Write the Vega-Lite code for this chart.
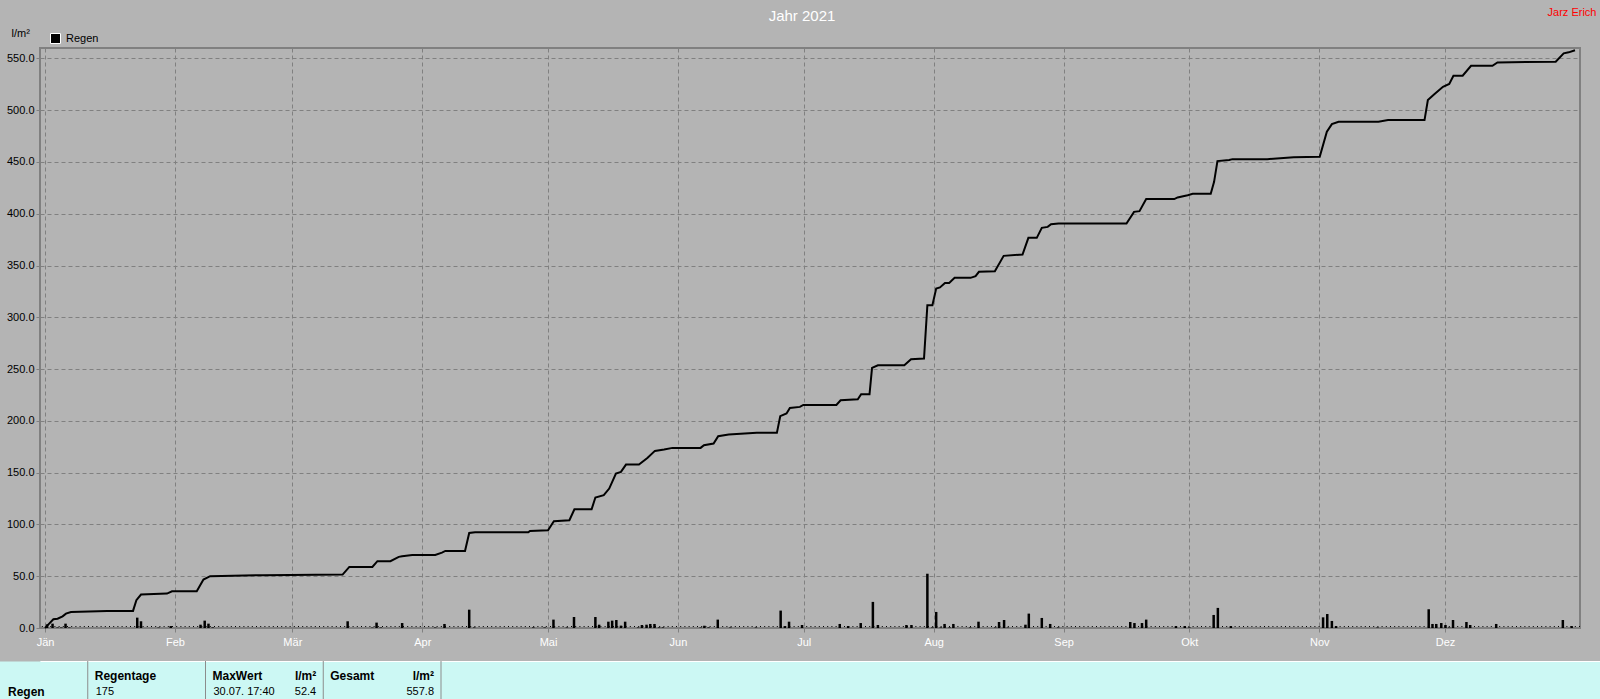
{
  "$schema": "https://vega.github.io/schema/vega-lite/v6.json",
  "background": "#b4b4b4",
  "padding": {"top": 7, "left": 0, "right": 0, "bottom": 0},
  "config": {"font": "Liberation Sans"},
  "datasets": {
    "regen": [
      {"tag": 0.5, "mm": 3.5}, {"tag": 1.8, "mm": 4.2}, {"tag": 3.0, "mm": 0.5}, {"tag": 3.9, "mm": 0.5},
      {"tag": 4.9, "mm": 4.2}, {"tag": 5.8, "mm": 0.5}, {"tag": 22.0, "mm": 10.0}, {"tag": 22.9, "mm": 6.5},
      {"tag": 27.1, "mm": 0.4}, {"tag": 30.0, "mm": 1.9}, {"tag": 37.1, "mm": 3.2}, {"tag": 38.1, "mm": 7.1},
      {"tag": 39.0, "mm": 4.2}, {"tag": 40.0, "mm": 0.6}, {"tag": 72.2, "mm": 6.5}, {"tag": 78.1, "mm": 0.4},
      {"tag": 79.1, "mm": 5.2}, {"tag": 80.1, "mm": 0.5}, {"tag": 85.2, "mm": 4.8}, {"tag": 93.1, "mm": 0.5},
      {"tag": 95.3, "mm": 3.9}, {"tag": 101.2, "mm": 17.7}, {"tag": 102.4, "mm": 0.5}, {"tag": 116.5, "mm": 0.6},
      {"tag": 119.2, "mm": 0.5}, {"tag": 121.3, "mm": 8.1}, {"tag": 124.5, "mm": 0.5}, {"tag": 126.2, "mm": 10.6},
      {"tag": 131.3, "mm": 10.6}, {"tag": 132.2, "mm": 3.2}, {"tag": 134.4, "mm": 6.1}, {"tag": 135.3, "mm": 7.1},
      {"tag": 136.3, "mm": 7.7}, {"tag": 137.4, "mm": 2.3}, {"tag": 138.4, "mm": 6.1}, {"tag": 141.5, "mm": 0.5},
      {"tag": 142.4, "mm": 2.9}, {"tag": 143.5, "mm": 3.2}, {"tag": 144.4, "mm": 3.9}, {"tag": 145.4, "mm": 3.9},
      {"tag": 146.5, "mm": 0.6}, {"tag": 147.4, "mm": 0.6}, {"tag": 156.4, "mm": 0.5}, {"tag": 157.3, "mm": 2.2},
      {"tag": 158.3, "mm": 0.6}, {"tag": 160.5, "mm": 8.1}, {"tag": 163.5, "mm": 0.5}, {"tag": 169.6, "mm": 0.5},
      {"tag": 175.5, "mm": 16.8}, {"tag": 176.5, "mm": 1.9}, {"tag": 177.5, "mm": 6.1}, {"tag": 180.6, "mm": 2.9},
      {"tag": 189.6, "mm": 3.9}, {"tag": 191.6, "mm": 1.9}, {"tag": 194.6, "mm": 4.8}, {"tag": 197.5, "mm": 25.2},
      {"tag": 198.7, "mm": 2.9}, {"tag": 205.5, "mm": 2.9}, {"tag": 206.7, "mm": 2.9}, {"tag": 210.5, "mm": 52.4},
      {"tag": 211.7, "mm": 0.6}, {"tag": 212.6, "mm": 15.5}, {"tag": 213.7, "mm": 0.6}, {"tag": 214.6, "mm": 3.9},
      {"tag": 215.8, "mm": 0.6}, {"tag": 216.7, "mm": 3.9}, {"tag": 220.7, "mm": 0.5}, {"tag": 222.7, "mm": 6.1},
      {"tag": 226.7, "mm": 0.5}, {"tag": 227.6, "mm": 5.8}, {"tag": 228.8, "mm": 7.7}, {"tag": 229.7, "mm": 0.4},
      {"tag": 233.9, "mm": 3.2}, {"tag": 234.7, "mm": 13.9}, {"tag": 237.8, "mm": 9.7}, {"tag": 239.8, "mm": 3.9},
      {"tag": 241.7, "mm": 0.5}, {"tag": 258.9, "mm": 5.8}, {"tag": 259.9, "mm": 4.8}, {"tag": 261.7, "mm": 4.8},
      {"tag": 262.7, "mm": 8.1}, {"tag": 269.8, "mm": 1.9}, {"tag": 271.9, "mm": 1.9}, {"tag": 273.0, "mm": 0.6},
      {"tag": 278.8, "mm": 12.6}, {"tag": 279.8, "mm": 19.4}, {"tag": 282.9, "mm": 1.9}, {"tag": 304.9, "mm": 10.3},
      {"tag": 305.9, "mm": 13.5}, {"tag": 307.0, "mm": 6.8}, {"tag": 308.0, "mm": 1.9}, {"tag": 317.9, "mm": 0.5},
      {"tag": 330.1, "mm": 18.1}, {"tag": 331.0, "mm": 3.9}, {"tag": 331.9, "mm": 3.9}, {"tag": 333.1, "mm": 4.8},
      {"tag": 334.1, "mm": 2.9}, {"tag": 335.0, "mm": 0.5}, {"tag": 335.9, "mm": 7.7}, {"tag": 339.1, "mm": 5.8},
      {"tag": 340.0, "mm": 2.9}, {"tag": 346.2, "mm": 3.9}, {"tag": 362.1, "mm": 7.7}, {"tag": 364.2, "mm": 1.9}
    ],
    "summe": [
      {"tag": 0, "summe": 0}, {"tag": 1, "summe": 4.2}, {"tag": 2, "summe": 8.4}, {"tag": 3, "summe": 9},
      {"tag": 4.2, "summe": 11.3}, {"tag": 5, "summe": 13.9}, {"tag": 6.2, "summe": 15.5}, {"tag": 14.8, "summe": 16.5},
      {"tag": 21, "summe": 16.5}, {"tag": 21.8, "summe": 26.8}, {"tag": 22.9, "summe": 32.3}, {"tag": 29.1, "summe": 33.2},
      {"tag": 30.3, "summe": 35.5}, {"tag": 36.2, "summe": 35.5}, {"tag": 37.8, "summe": 46.8}, {"tag": 39.4, "summe": 50},
      {"tag": 52, "summe": 51}, {"tag": 71, "summe": 51.6}, {"tag": 72.6, "summe": 59}, {"tag": 78.1, "summe": 59},
      {"tag": 79.3, "summe": 64.5}, {"tag": 82.4, "summe": 64.5}, {"tag": 84.4, "summe": 68.7}, {"tag": 85.2, "summe": 69.3},
      {"tag": 87.6, "summe": 70.5}, {"tag": 93.1, "summe": 70.5}, {"tag": 94.7, "summe": 72.8}, {"tag": 95.5, "summe": 74.4},
      {"tag": 100.2, "summe": 74.4}, {"tag": 101.2, "summe": 91.8}, {"tag": 102.6, "summe": 92.4}, {"tag": 115.3, "summe": 92.4},
      {"tag": 115.7, "summe": 93.7}, {"tag": 120, "summe": 94.4}, {"tag": 121.4, "summe": 103.1}, {"tag": 125.1, "summe": 104},
      {"tag": 126.3, "summe": 114.6}, {"tag": 130.4, "summe": 114.6}, {"tag": 131.3, "summe": 126}, {"tag": 133.3, "summe": 128.2},
      {"tag": 134.6, "summe": 134.6}, {"tag": 136.2, "summe": 149.1}, {"tag": 137.4, "summe": 150.7}, {"tag": 138.6, "summe": 157.8},
      {"tag": 141.7, "summe": 157.8}, {"tag": 143.7, "summe": 164.2}, {"tag": 145.5, "summe": 171}, {"tag": 147.7, "summe": 172.3},
      {"tag": 149.7, "summe": 173.9}, {"tag": 156.4, "summe": 173.9}, {"tag": 157.2, "summe": 176.5}, {"tag": 159.5, "summe": 178.1},
      {"tag": 160.6, "summe": 185.2}, {"tag": 163.1, "summe": 186.8}, {"tag": 169.8, "summe": 188.4}, {"tag": 174.6, "summe": 188.4},
      {"tag": 175.4, "summe": 204.5}, {"tag": 176.9, "summe": 207.1}, {"tag": 177.7, "summe": 212.5}, {"tag": 180.1, "summe": 213.5},
      {"tag": 180.9, "summe": 215.4}, {"tag": 188.8, "summe": 215.4}, {"tag": 189.8, "summe": 219.9}, {"tag": 193.9, "summe": 220.9},
      {"tag": 194.7, "summe": 225.7}, {"tag": 196.7, "summe": 225.7}, {"tag": 197.3, "summe": 251.1}, {"tag": 198.7, "summe": 253.7},
      {"tag": 205, "summe": 253.7}, {"tag": 206.6, "summe": 259.5}, {"tag": 209.7, "summe": 260.2}, {"tag": 210.5, "summe": 311.7},
      {"tag": 211.7, "summe": 311.7}, {"tag": 212.6, "summe": 327.8}, {"tag": 213.5, "summe": 328.8}, {"tag": 214.7, "summe": 333.2},
      {"tag": 215.7, "summe": 333.2}, {"tag": 217, "summe": 338.1}, {"tag": 220.8, "summe": 338.1}, {"tag": 222, "summe": 339.7},
      {"tag": 222.8, "summe": 343.9}, {"tag": 226.6, "summe": 344.5}, {"tag": 228.7, "summe": 359.3}, {"tag": 233.2, "summe": 360.6},
      {"tag": 234.6, "summe": 376.7}, {"tag": 236.6, "summe": 376.7}, {"tag": 237.8, "summe": 386.4}, {"tag": 239.2, "summe": 387.3},
      {"tag": 240, "summe": 389.9}, {"tag": 241.8, "summe": 390.6}, {"tag": 258, "summe": 390.6}, {"tag": 259.8, "summe": 401.8},
      {"tag": 261.1, "summe": 402.5}, {"tag": 262.7, "summe": 414.1}, {"tag": 269.4, "summe": 414.1}, {"tag": 270.2, "summe": 415.7},
      {"tag": 272.6, "summe": 417.9}, {"tag": 273.8, "summe": 419.2}, {"tag": 278.1, "summe": 419.2}, {"tag": 278.9, "summe": 430.8},
      {"tag": 279.7, "summe": 450.8}, {"tag": 282.5, "summe": 451.8}, {"tag": 283.3, "summe": 452.7}, {"tag": 291.6, "summe": 452.7},
      {"tag": 297.9, "summe": 454.4}, {"tag": 304.1, "summe": 455}, {"tag": 305.8, "summe": 479.1}, {"tag": 307, "summe": 486.5},
      {"tag": 308.6, "summe": 488.8}, {"tag": 318.1, "summe": 488.8}, {"tag": 320.4, "summe": 490.4}, {"tag": 329.1, "summe": 490.4},
      {"tag": 329.9, "summe": 509.7}, {"tag": 331.5, "summe": 515.5}, {"tag": 333.5, "summe": 522.6}, {"tag": 335, "summe": 525.2},
      {"tag": 336, "summe": 533.2}, {"tag": 338.2, "summe": 533.2}, {"tag": 340.2, "summe": 542.8}, {"tag": 345.3, "summe": 542.8},
      {"tag": 346.5, "summe": 546.1}, {"tag": 360.4, "summe": 546.7}, {"tag": 362.3, "summe": 554.8}, {"tag": 363.5, "summe": 555.8},
      {"tag": 365, "summe": 557.8}
    ],
    "tabelle": [
      {"spalte": "Regen", "zeile": "Regen", "kopf": "", "einheit": "", "wert": "", "wert2": ""},
      {"spalte": "Regentage", "zeile": "", "kopf": "Regentage", "einheit": "", "wert": "175", "wert2": ""},
      {"spalte": "MaxWert", "zeile": "", "kopf": "MaxWert", "einheit": "l/m²", "wert": "30.07.  17:40", "wert2": "52.4"},
      {"spalte": "Gesamt", "zeile": "", "kopf": "Gesamt", "einheit": "l/m²", "wert": "", "wert2": "557.8"}
    ]
  },
  "title": {"text": "Jarz Erich", "anchor": "end", "color": "#ff0000", "fontSize": 11, "fontWeight": "normal", "offset": -10.5, "dx": -4},
  "columns": 1,
  "spacing": 12,
  "concat": [
    {
      "width": 1540,
      "height": 580,
      "view": {"stroke": "#808080", "strokeWidth": 2},
      "title": {"text": "Jahr 2021", "anchor": "middle", "frame": "group", "color": "#ffffff", "fontSize": 15, "fontWeight": "normal", "offset": 3.5, "dx": -8},
      "layer": [
        {
          "data": {"name": "regen"},
          "mark": {"type": "bar", "width": 2.5},
          "encoding": {
            "x": {"field": "tag", "type": "quantitative", "scale": {"domain": [0, 365], "nice": false, "zero": false},
                  "axis": {"values": [0, 31, 59, 90, 120, 151, 181, 212, 243, 273, 304, 334], "labelExpr": "['Jän','Feb','Mär','Apr','Mai','Jun','Jul','Aug','Sep','Okt','Nov','Dez'][indexof([0,31,59,90,120,151,181,212,243,273,304,334], datum.value)]", "title": null, "grid": true, "gridColor": "#808080", "gridDash": [4, 3], "gridOpacity": 1, "domain": false, "tickColor": "#808080", "tickSize": 4, "labelColor": "#ffffff", "labelFontSize": 11, "labelPadding": 4, "labelFlush": false}},
            "y": {"field": "mm", "type": "quantitative", "scale": {"domain": [0, 560], "nice": false},
                  "axis": {"values": [0, 50, 100, 150, 200, 250, 300, 350, 400, 450, 500, 550], "format": ".1f", "title": "l/m²", "titleAngle": 0, "titleAlign": "left", "titleBaseline": "alphabetic", "titleX": -29, "titleY": -12, "titleFontSize": 11, "titleFontWeight": "normal", "titleColor": "#000000", "grid": true, "gridColor": "#808080", "gridDash": [4, 3], "gridOpacity": 1, "domain": false, "tickColor": "#808080", "tickSize": 4, "labelColor": "#000000", "labelFontSize": 11, "labelPadding": 2}},
            "color": {"datum": "Regen", "scale": {"domain": ["Regen"], "range": ["#000000"]},
                      "legend": {"orient": "none", "legendX": 10, "legendY": -15, "title": null, "direction": "horizontal", "symbolType": "square", "symbolSize": 100, "symbolStrokeColor": "#ffffff", "symbolStrokeWidth": 1, "labelFontSize": 11, "labelColor": "#000000", "labelOffset": 5, "padding": 0}}
          }
        },
        {
          "data": {"name": "summe"},
          "mark": {"type": "line", "color": "#000000", "strokeWidth": 2},
          "encoding": {
            "x": {"field": "tag", "type": "quantitative"},
            "y": {"field": "summe", "type": "quantitative"}
          }
        },
        {
          "data": {"values": [{}]},
          "mark": {"type": "rule", "color": "#000000", "strokeDash": [1, 3.2], "strokeWidth": 1.2, "yOffset": -1.5},
          "encoding": {"y": {"datum": 0, "type": "quantitative"}}
        }
      ]
    },
    {
      "width": 1560,
      "height": 38,
      "view": {"fill": "#ccf8f4", "stroke": "#ffffff", "strokeWidth": 1},
      "data": {"name": "tabelle"},
      "layer": [
        {
          "transform": [{"filter": "datum.spalte !== 'Regen'"}],
          "mark": {"type": "rule", "color": "#8c8c8c", "strokeWidth": 1},
          "encoding": {"x": {"field": "spalte", "type": "nominal", "bandPosition": 0, "scale": {"type": "band", "domain": ["Regen", "Regentage", "MaxWert", "Gesamt"], "range": [-70, 401], "paddingInner": 0, "paddingOuter": 0}, "axis": null}}
        },
        {
          "transform": [{"filter": "datum.spalte === 'Gesamt'"}],
          "mark": {"type": "rule", "color": "#8c8c8c", "strokeWidth": 1},
          "encoding": {"x": {"field": "spalte", "type": "nominal", "bandPosition": 1, "axis": null}}
        },
        {
          "transform": [{"filter": "datum.kopf !== ''"}],
          "mark": {"type": "text", "align": "left", "baseline": "middle", "fontWeight": "bold", "fontSize": 12, "dx": 7, "color": "#000000"},
          "encoding": {
            "x": {"field": "spalte", "type": "nominal", "bandPosition": 0, "axis": null},
            "y": {"datum": "Kopf", "type": "nominal", "scale": {"type": "point", "domain": ["Kopf", "Wert"], "range": [0, 38], "padding": 0.6875, "align": 0.682},
                  "axis": {"orient": "left", "offset": 39.5, "domainColor": "#ccf8f4", "domainWidth": 80, "domainCap": "butt", "ticks": false, "labels": false, "title": null, "grid": false}},
            "text": {"field": "kopf"}
          }
        },
        {
          "transform": [{"filter": "datum.einheit !== ''"}],
          "mark": {"type": "text", "align": "right", "baseline": "middle", "fontWeight": "bold", "fontSize": 12, "dx": -7, "color": "#000000"},
          "encoding": {
            "x": {"field": "spalte", "type": "nominal", "bandPosition": 1, "axis": null},
            "y": {"datum": "Kopf", "type": "nominal"},
            "text": {"field": "einheit"}
          }
        },
        {
          "transform": [{"filter": "datum.wert !== ''"}],
          "mark": {"type": "text", "align": "left", "baseline": "middle", "fontSize": 11, "dx": 8, "color": "#000000"},
          "encoding": {
            "x": {"field": "spalte", "type": "nominal", "bandPosition": 0, "axis": null},
            "y": {"datum": "Wert", "type": "nominal"},
            "text": {"field": "wert"}
          }
        },
        {
          "transform": [{"filter": "datum.wert2 !== ''"}],
          "mark": {"type": "text", "align": "right", "baseline": "middle", "fontSize": 11, "dx": -7, "color": "#000000"},
          "encoding": {
            "x": {"field": "spalte", "type": "nominal", "bandPosition": 1, "axis": null},
            "y": {"datum": "Wert", "type": "nominal"},
            "text": {"field": "wert2"}
          }
        },
        {
          "transform": [{"filter": "datum.zeile !== ''"}],
          "mark": {"type": "text", "align": "left", "baseline": "middle", "fontWeight": "bold", "fontSize": 12, "dx": 38, "color": "#000000"},
          "encoding": {
            "x": {"field": "spalte", "type": "nominal", "bandPosition": 0, "axis": null},
            "y": {"datum": "Wert", "type": "nominal"},
            "text": {"field": "zeile"}
          }
        }
      ]
    }
  ]
}
